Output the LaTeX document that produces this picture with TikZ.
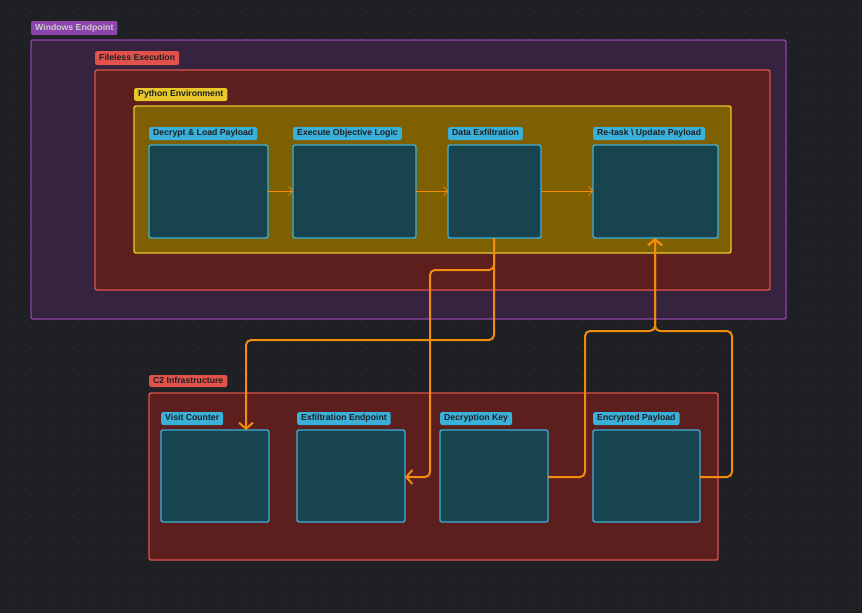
\documentclass[tikz,border=0pt]{standalone}
\usepackage{fontspec}
\setmainfont{Liberation Sans}
\usetikzlibrary{arrows.meta}
\definecolor{bg}{HTML}{1E2024}
\definecolor{dotc}{HTML}{30343A}
\definecolor{purS}{HTML}{8E44AD}
\definecolor{purF}{HTML}{352340}
\definecolor{redS}{HTML}{E0524A}
\definecolor{redF}{HTML}{5C1F1D}
\definecolor{yelS}{HTML}{E8C72A}
\definecolor{yelF}{HTML}{7F6000}
\definecolor{bluS}{HTML}{3BB0D8}
\definecolor{bluF}{HTML}{18444F}
\definecolor{org}{HTML}{F28C0F}
\definecolor{dtxt}{HTML}{1E2024}
\begin{document}
\begin{tikzpicture}[x=1pt,y=-1pt,
  grp/.style={draw=#1,line width=1.4pt,rounded corners=2pt},
  lab/.style={rounded corners=2pt,inner xsep=4pt,inner ysep=0pt,text height=6.5pt,text depth=2pt,font=\fontsize{8.7}{10}\selectfont\bfseries,text=dtxt,anchor=west},
  box/.style={draw=bluS,fill=bluF,line width=1.4pt,rounded corners=2pt},
  thin/.style={draw=org,line width=0.7pt,-{Straight Barb[length=4pt,width=9pt]}},
  thick/.style={draw=org,line width=2pt,rounded corners=5pt,-{Straight Barb[length=6pt,width=14pt]}}]
\useasboundingbox (0,0) rectangle (862,613);
\fill[bg] (0,0) rectangle (862,613);
\foreach \i in {0,...,40}{\foreach \j in {0,...,28}{\fill[dotc] (10+21*\i,12+21*\j) circle (0.9);}}
% groups
\draw[grp=purS,fill=purF] (31,40) rectangle (786,319);
\node[lab,fill=purS,text=lightgray!80,minimum height=14pt] (lw) at (31,28) {Windows Endpoint};
\draw[grp=redS,fill=redF] (95,70) rectangle (770,290);
\node[lab,fill=redS,minimum height=14pt] (lf) at (95,58) {Fileless Execution};
\draw[grp=yelS,fill=yelF] (134,106) rectangle (731,253);
\node[lab,fill=yelS,minimum height=13pt] (lp) at (134,94.5) {Python Environment};
\draw[grp=redS,fill=redF] (149,393) rectangle (718,560);
\node[lab,fill=redS,minimum height=12pt] (lc) at (149,381) {C2 Infrastructure};
% boxes
\newcommand{\bx}[6]{\draw[box] (#2,#3) rectangle (#4,#5); \coordinate (#1) at ({(#2+#4)/2},{(#3+#5)/2});
  \node[lab,fill=bluS,minimum height=13pt] (#1l) at (#2,{#3-11.5}) {#6};}
\bx{a}{149}{145}{268}{238}{Decrypt \& Load Payload}
\bx{b}{293}{145}{416}{238}{Execute Objective Logic}
\bx{c}{448}{145}{541}{238}{Data Exfiltration}
\bx{d}{593}{145}{718}{238}{Re-task \textbackslash{} Update Payload}
\bx{e}{161}{430}{269}{522}{Visit Counter}
\bx{f}{297}{430}{405}{522}{Exfiltration Endpoint}
\bx{g}{440}{430}{548}{522}{Decryption Key}
\bx{h}{593}{430}{700}{522}{Encrypted Payload}
\coordinate (cb) at (494,238);
\coordinate (db) at (655,238);
\coordinate (ft) at (405,477);
\coordinate (et) at (246,430);
\coordinate (gr) at (548,477);
\coordinate (hr) at (700,477);
\draw[thin] (268,191) -- (293,191);
\draw[thin] (416,191) -- (448,191);
\draw[thin] (541,191) -- (593,191);
\draw[thick] (cb) -- (494,270) -- (430,270) -- (430,477) -- (ft);
\draw[thick] (cb) -- (494,340) -- (246,340) -- (et);
\draw[thick] (gr) -- (585,477) -- (585,331) -- (655,331) -- (db);
\draw[thick] (hr) -- (732,477) -- (732,331) -- (655,331) -- (db);
\end{tikzpicture}
\end{document}
